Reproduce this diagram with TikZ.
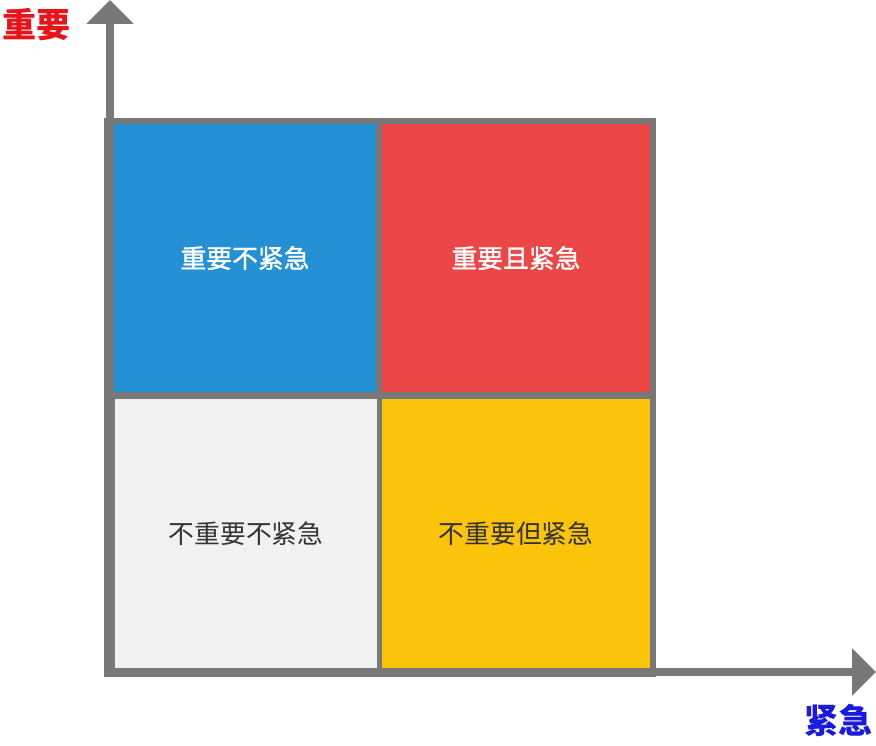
\documentclass[tikz,border=0pt]{standalone}
\usepackage{fontspec}
\setmainfont{Noto Sans CJK SC}
\newfontfamily\cjkmid[FakeBold=1.3]{Noto Sans CJK SC}
\usepackage{tikz}
\usetikzlibrary{arrows.meta,positioning}
\definecolor{axisgray}{HTML}{787878}
\definecolor{qblue}{HTML}{2591D5}
\definecolor{qred}{HTML}{EC4646}
\definecolor{qyellow}{HTML}{FBC30A}
\definecolor{qgray}{HTML}{F1F1F1}
\definecolor{qtext}{HTML}{333333}
\definecolor{lblred}{HTML}{E8141B}
\definecolor{lblblue}{HTML}{1A1ADF}

\begin{document}
\begin{tikzpicture}[x=1pt,y=-1pt,
  cell/.style={inner sep=0pt,font=\fontsize{25.8}{30}\selectfont},
  hotcell/.style={cell,text=white,font=\fontsize{25.8}{30}\selectfont\cjkmid},
  axis/.style={axisgray,line width=8pt,-{Triangle[length=24pt,width=46pt]}},
  axislabel/.style={inner sep=0pt,font=\fontsize{34}{40}\selectfont\bfseries}]
 \useasboundingbox (0,0) rectangle (876,746);
 % frame behind the four quadrants
 \fill[axisgray] (104,118) rectangle (656,677);
 % quadrants
 \node[hotcell,fill=qblue,minimum width=262pt,minimum height=268pt]
   (impnu) at (245,258) {重要不紧急};
 \node[hotcell,fill=qred,minimum width=268pt,minimum height=268pt]
   (impu) at (516,258) {重要且紧急};
 \node[cell,fill=qgray,minimum width=262pt,minimum height=269pt,text=qtext]
   (nimpnu) at (246,533.5) {不重要不紧急};
 \node[cell,fill=qyellow,minimum width=268pt,minimum height=269pt,text=qtext]
   (nimpu) at (516,533.5) {不重要但紧急};
 % axes
 \coordinate (ybase) at (110,677);
 \coordinate (ytip) at (110,0);
 \coordinate (xbase) at (104,672);
 \coordinate (xtip) at (876,672);
 \draw[axis] (ybase) -- (ytip);
 \draw[axis] (xbase) -- (xtip);
 % axis labels
 \node[axislabel,text=lblred] (ylabel) at (36,25) {重要};
 \node[axislabel,text=lblblue] (xlabel) at (838,720) {紧急};
\end{tikzpicture}
\end{document}
